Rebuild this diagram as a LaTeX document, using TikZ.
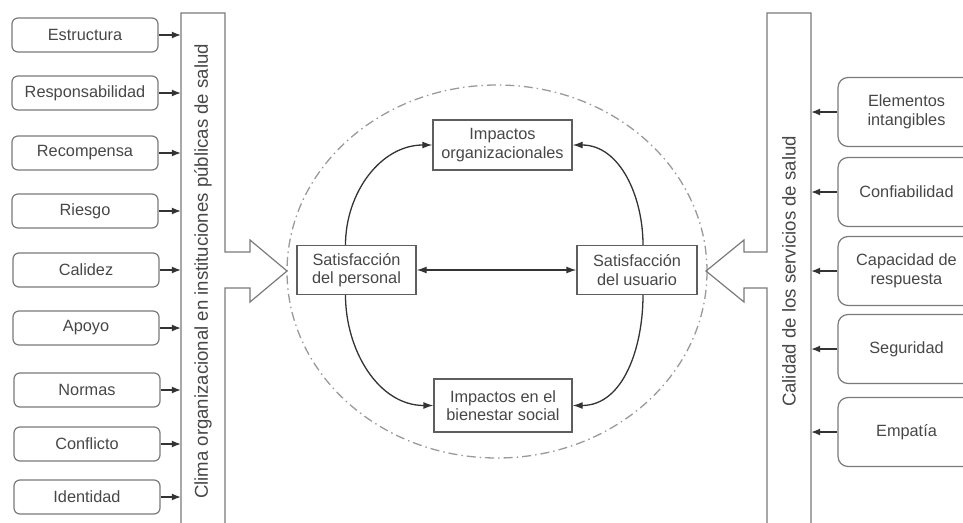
\documentclass[tikz,border=0pt]{standalone}
\usepackage{fontspec}
\setmainfont{Liberation Sans}
\usetikzlibrary{arrows.meta,calc}
\definecolor{txt}{HTML}{474747}
\definecolor{edge}{HTML}{7A7A7A}
\definecolor{darkedge}{HTML}{5E5E5E}
\definecolor{arrowc}{HTML}{333333}
\definecolor{ringc}{HTML}{9A9A9A}
\begin{document}
\begin{tikzpicture}[x=1pt,y=-1pt,
  every node/.style={text=txt, font=\fontsize{16.3}{18.5}\selectfont},
  factor/.style={draw=edge, line width=1.2pt, rounded corners=6pt, minimum width=146pt, minimum height=34pt, inner sep=0pt},
  dimbox/.style={draw=edge, line width=1.2pt, rounded corners=10pt, minimum width=137pt, minimum height=69pt, inner sep=0pt, align=center},
  core/.style={draw=darkedge, line width=1.3pt, minimum height=49pt, inner sep=0pt, align=center},
  bar/.style={minimum width=44pt, minimum height=517pt, inner sep=0pt},
  bartext/.style={rotate=90, font=\fontsize{18.6}{21}\selectfont},
  shortarr/.style={draw=arrowc, line width=1.3pt, -{Latex[length=9pt,width=7pt]}},
  flow/.style={draw=arrowc, line width=1.3pt, -{Latex[length=10pt,width=7pt]}},
  outline/.style={draw=edge, line width=1.2pt, line join=miter}
]
\useasboundingbox (0,0) rectangle (963,522);
\clip (0,0) rectangle (963,522);

% dash-dot ring around the central model
\draw[ringc, line width=1.3pt, dash pattern=on 9pt off 4pt on 1.5pt off 4pt] (497,271.5) ellipse [x radius=210, y radius=186.5];

% left bar with its hollow arrow
\node[bar] (lbar) at (203,271.5) {};
\draw[outline] (181,530) -- (181,13) -- (225,13) -- (225,252) -- (250,252) -- (250,240)
  -- (287,271) -- (250,302) -- (250,288) -- (225,288) -- (225,530);
\node[bartext] at (lbar.center) {Clima organizacional en instituciones públicas de salud};

% right bar with its hollow arrow
\node[bar] (rbar) at (789,271.5) {};
\draw[outline] (811,530) -- (811,13) -- (767,13) -- (767,252) -- (744,252) -- (744,240)
  -- (706,271) -- (744,302) -- (744,288) -- (767,288) -- (767,530);
\node[bartext] at (rbar.center) {Calidad de los servicios de salud};

% climate factors
\node[factor] (f1) at (85,35) {Estructura};
\node[factor] (f2) at (85,93) {Responsabilidad};
\node[factor] (f3) at (85,153) {Recompensa};
\node[factor] (f4) at (85,211) {Riesgo};
\node[factor] (f5) at (86,270) {Calidez};
\node[factor] (f6) at (86,328) {Apoyo};
\node[factor] (f7) at (87,390) {Normas};
\node[factor] (f8) at (87,444) {Conflicto};
\node[factor] (f9) at (87,497) {Identidad};
\foreach \i in {1,...,9} {
  \draw[shortarr] (f\i.east) -- (f\i.east -| lbar.west);
}

% quality dimensions
\node[dimbox] (d1) at (906.5,112) {Elementos\\intangibles};
\node[dimbox] (d2) at (906.5,192) {Confiabilidad};
\node[dimbox] (d3) at (906.5,271) {Capacidad de\\respuesta};
\node[dimbox] (d4) at (906.5,349) {Seguridad};
\node[dimbox] (d5) at (906.5,432) {Empatía};
\foreach \i in {1,...,5} {
  \draw[shortarr] (d\i.west) -- (d\i.west -| rbar.east);
}

% central model
\node[core, minimum width=119pt] (sp) at (356.5,270) {Satisfacción\\del personal};
\node[core, minimum width=120pt] (su) at (637,270) {Satisfacción\\del usuario};
\node[core, minimum width=139pt, minimum height=50pt] (io) at (502.5,145) {Impactos\\organizacionales};
\node[core, minimum width=138pt, minimum height=53pt] (ib) at (503,405.5) {Impactos en el\\bienestar social};

\draw[flow, {Latex[length=10pt,width=7pt]}-{Latex[length=10pt,width=7pt]}] (sp.east) -- (su.west);
\draw[flow] ([xshift=-11pt]sp.north) to[out=90,in=180] (io.west);
\draw[flow] ([xshift=6pt]su.north) to[out=90,in=0] (io.east);
\draw[flow] ([xshift=-11pt]sp.south) to[out=-90,in=180] (ib.west);
\draw[flow] ([xshift=6pt]su.south) to[out=-90,in=0] (ib.east);
\end{tikzpicture}
\end{document}
